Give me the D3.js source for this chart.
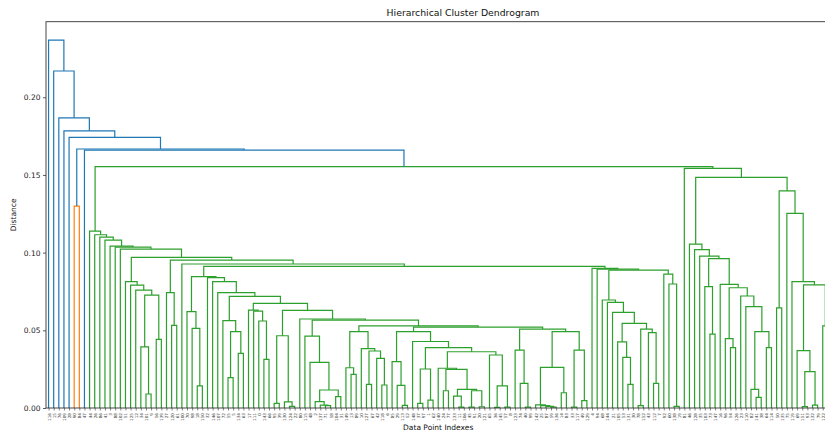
<!DOCTYPE html>
<html><head><meta charset="utf-8">
<script src="https://cdn.jsdelivr.net/npm/d3@7"></script>
<style>html,body{margin:0;padding:0;overflow:hidden;background:#fff}</style>
</head><body>
<svg id="chart" width="825" height="432"></svg>
<script>
// ---------- DATA ----------
const leafLabels = ["116","15","76","109","28","90","84","47","44","26",
"86","41","3","88","102","51","125","12","34","101",
"9","56","139","27","120","61","100","70","98","18",
"150","32","146","107","72","55","5","134","63","17",
"111","0","143","66","95","39","130","124","22","80",
"115","48","2","137","71","58","104","31","149","13",
"89","10","127","67","42","118","6","85","29","113",
"52","148","37","97","1","62","140","24","77","133",
"11","106","45","91","20","121","65","36","145","57",
"8","123","74","40","99","142","25","87","59","136",
"14","83","33","117","49","129","4","94","68","144",
"21","105","53","131","30","78","152","43","112","7",
"92","60","138","19","81","46","128","35","103","73",
"147","16","96","54","126","23","110","82","141","38",
"64","114","50","135","75","119","69","151","93","132",
"79","122","108"];
const yTickValues = [0.00, 0.05, 0.10, 0.15, 0.20];

// merges: [height, left, right]; plain numbers are leaf positions
const orangePair = [0.1300, 5, 6];
const group15 = [0.0813, 15, [0.0791, 16, [0.0759, 17, [0.0727, [0.0393, 18, [0.0090, 19, 20]], [0.0442, 21, 22]]]]];
const group23 = [0.0742, 23, [0.0532, 24, 25]];
const group27 = [0.0620, 27, [0.0513, 28, [0.0142, 29, 30]]];
const group34 = [0.0562, 34, [0.0491, [0.0195, 35, 36], [0.0352, 37, 38]]];
const group39 = [0.0630, 39, [0.0624, 40, [0.0560, 41, [0.0313, 42, 43]]]];
const group44 = [0.0465, [0.0030, 44, 45], [0.0039, 46, [0.0010, 47, 48]]];
const group50 = [0.0463, 50, [0.0294, 51, [0.0116, [0.0041, 52, [0.0019, 53, [0.0015, 54, 55]]], [0.0073, 56, 57]]]];
const group58 = [0.0491, [0.0259, 58, [0.0217, 59, 60]], [0.0382, 61, [0.0367, [0.0152, 62, 63], [0.0320, 64, [0.0148, 65, 66]]]]];
const group67 = [0.0298, 67, [0.0146, 68, [0.0017, 69, 70]]];
const group76 = [0.0256, 76, [0.0249, [0.0111, 77, 78], [0.0120, [0.0077, 79, [0.0005, 80, 81]], [0.0111, [0.0005, 82, 83], [0.0008, 84, 85]]]]];
const group86 = [0.0341, 86, [0.0142, [0.0004, 87, 88], [0.0006, 89, 90]]];
const group71 = [0.0428, 71, [0.0389, [0.0251, [0.0030, 72, 73], [0.0051, 74, 75]], [0.0362, group76, group86]]];
const group91 = [0.0373, 91, [0.0159, 92, [0.0005, 93, 94]]];
const group95 = [0.0262, [0.0020, 95, [0.0015, 96, [0.0010, 97, [0.0005, 98, 99]]]], [0.0098, 100, 101]];
const group102 = [0.0373, [0.0005, 102, 103], [0.0047, 104, 105]];
const group108 = [0.0695, 108, [0.0680, 109, [0.0616, 110, [0.0545, [0.0425, 111, [0.0326, 112, [0.0152, 113, 114]]], [0.0508, [0.0015, 115, 116], [0.0485, 117, [0.0159, 118, 119]]]]]]];
const group120 = [0.0862, 120, [0.0798, 121, [0.0010, 122, 123]]];
const group128 = [0.0961, [0.0781, 128, [0.0476, 129, 130]], [0.0796, 131, [0.0774, [0.0446, 132, [0.0388, 133, 134]], [0.0721, 135, [0.0652, 136, [0.0491, [0.0120, 137, [0.0069, 138, 139]], [0.0388, 140, 141]]]]]]];
const group142 = [0.1398, [0.0644, 142, 143], [0.1253, 144, [0.0813, 145, [0.0792, [0.0369, 146, [0.0234, [0.0009, 147, 148], [0.0019, 149, 150]]], [0.0528, 151, 152]]]]];

const nodeL = [0.0508, group91, [0.0491, group95, group102]];
const nodeG2 = [0.0521, [0.0491, group67, group71], nodeL];
const nodeC5 = [0.0573, 49, [0.0566, group50, [0.0528, group58, nodeG2]]];
const nodeB5 = [0.0674, group39, [0.0629, group44, nodeC5]];
const nodeA9 = [0.0845, group27, [0.0839, 31, [0.0813, 32, [0.0742, 33, [0.0719, group34, nodeB5]]]]];
const nodeRR = [0.0899, 106, [0.0894, 107, [0.0888, group108, group120]]];
const nodeQ = [0.0927, 26, [0.0912, nodeA9, nodeRR]];
const chain8 = [0.1139, 8, [0.1115, 9, [0.1100, 10, [0.1081, 11, [0.1042, 12, [0.1036, 13, [0.1023, 14, [0.0970, group15, [0.0952, group23, nodeQ]]]]]]]]];
const rightBranch = [0.1542, 124, [0.1485, [0.1055, 125, [0.1019, 126, [0.0978, 127, group128]]], group142]];
const greenRoot = [0.1553, chain8, rightBranch];
const treeRoot = [0.2368, 0, [0.2169, 1, [0.1868, 2, [0.1784, 3, [0.1742, 4, [0.1667, orangePair, [0.1660, 7, greenRoot]]]]]]];

const aboveColor = "#1f77b4";
const clusterColors = ["#ff7f0e", "#2ca02c", "#d62728", "#9467bd"];

(function () {
  // ---------- LAYOUT ----------
  const N = leafLabels.length;
  const mLeft = 46, mTop = 21.7, mBottom = 408, leafStep = 5.127;
  const plotW = leafStep * N;
  const maxH = treeRoot[0];
  const threshold = 0.7 * maxH;

  const svg = d3.select("#chart");
  const x = d3.scaleLinear().domain([0, 10 * N]).range([mLeft, mLeft + plotW]);
  const y = d3.scaleLinear().domain([0, maxH * 1.05]).range([mBottom, mTop]);

  const links = [];
  let clusterIdx = 0;
  function walk(node, cc) {
    if (typeof node === "number") return {x: 10 * node + 5, h: 0};
    const h = node[0];
    let col;
    if (cc) col = cc;
    else if (h < threshold) col = clusterColors[clusterIdx++];
    else col = aboveColor;
    const childCC = h < threshold ? col : null;
    const L = walk(node[1], childCC);
    const R = walk(node[2], childCC);
    links.push({xl: L.x, hl: L.h, xr: R.x, hr: R.h, h, col});
    return {x: (L.x + R.x) / 2, h};
  }
  walk(treeRoot, null);

  const font = "'DejaVu Sans', sans-serif";

  svg.append("g").selectAll("path").data(links).join("path")
    .attr("d", d => `M${x(d.xl)},${y(d.hl)}V${y(d.h)}H${x(d.xr)}V${y(d.hr)}`)
    .attr("fill", "none")
    .attr("stroke", d => d.col)
    .attr("stroke-width", 1.2);

  svg.append("rect").attr("x", mLeft).attr("y", mTop).attr("width", plotW).attr("height", mBottom - mTop)
    .attr("fill", "none").attr("stroke", "#333").attr("stroke-width", 0.9);

  const yAxis = d3.axisLeft(y).tickValues(yTickValues).tickFormat(d3.format(".2f")).tickSize(3).tickPadding(2.5);
  const gy = svg.append("g").attr("transform", `translate(${mLeft},0)`).call(yAxis);
  gy.select(".domain").remove();
  gy.selectAll("text").attr("font-family", font).attr("font-size", 7.5).attr("fill", "#222");
  gy.selectAll("line").attr("stroke", "#333").attr("stroke-width", 0.8);

  const leafPos = d3.range(N).map(i => 10 * i + 5);
  const xAxis = d3.axisBottom(x).tickValues(leafPos).tickFormat((d, i) => leafLabels[i]).tickSize(2.5).tickPadding(2);
  const gx = svg.append("g").attr("transform", `translate(0,${mBottom})`).call(xAxis);
  gx.select(".domain").remove();
  gx.selectAll("line").attr("stroke", "#333").attr("stroke-width", 0.6);
  gx.selectAll("text")
    .attr("font-family", font).attr("font-size", 4.2).attr("fill", "#333")
    .attr("transform", "rotate(-90)")
    .attr("text-anchor", "end")
    .attr("x", -5).attr("y", 0).attr("dy", "0.35em");

  const cx = mLeft + plotW / 2;
  svg.append("text").attr("x", 463).attr("y", 16).attr("text-anchor", "middle")
    .attr("font-family", font).attr("font-size", 9.3).attr("fill", "#111")
    .text("Hierarchical Cluster Dendrogram");
  svg.append("text").attr("x", cx).attr("y", 430).attr("text-anchor", "middle")
    .attr("font-family", font).attr("font-size", 7.5).attr("fill", "#111")
    .text("Data Point Indexes");
  svg.append("text").attr("transform", `translate(16,${(mTop + mBottom) / 2}) rotate(-90)`).attr("text-anchor", "middle")
    .attr("font-family", font).attr("font-size", 7.5).attr("fill", "#111")
    .text("Distance");
})();
</script>
</body></html>
